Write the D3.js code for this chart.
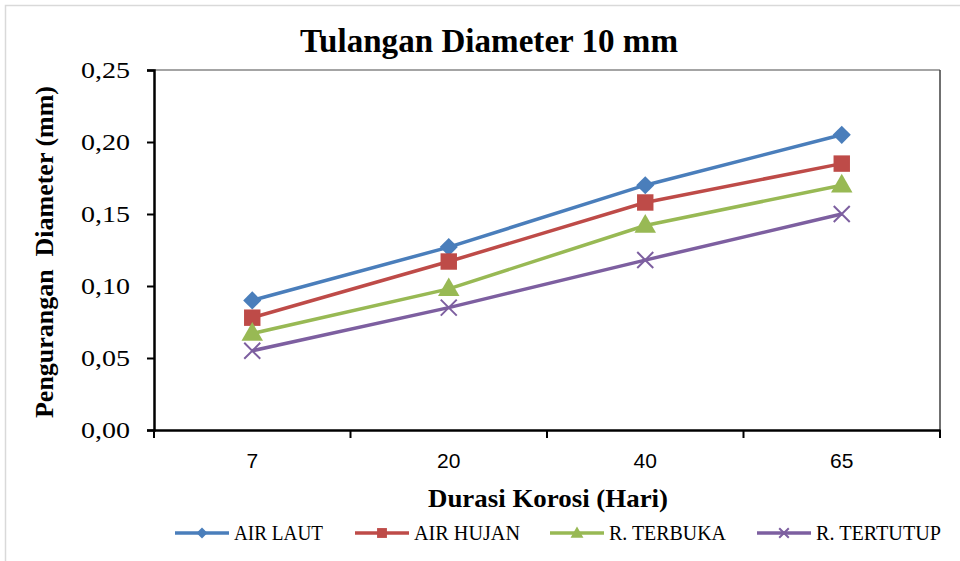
<!DOCTYPE html>
<html>
<head>
<meta charset="utf-8">
<script src="https://cdn.jsdelivr.net/npm/d3@7"></script>
<style>
    body { margin: 0; background: #fff; }
    text { font-family: "Liberation Serif", "Times New Roman", serif; fill: #000; }
</style>
</head>
<body>
<script>
// chart data
var days = ["7", "20", "40", "65"];
var seriesNames = ["AIR LAUT", "AIR HUJAN", "R. TERBUKA", "R. TERTUTUP"];
var airLaut = [0.090, 0.127, 0.170, 0.205];
var airHujan = [0.078, 0.117, 0.158, 0.185];
var rTerbuka = [0.067, 0.098, 0.142, 0.170];
var rTertutup = [0.055, 0.085, 0.118, 0.150];
var yTicks = [0, 0.05, 0.10, 0.15, 0.20, 0.25];

var colors = ["#4a7ebb", "#be4b48", "#98b954", "#7d5fa0"];
var symbols = ["diamond", "square", "triangle", "cross"];

var width = 960,
    height = 561;

var svg = d3.select("body")
    .append("svg")
    .attr("width", width)
    .attr("height", height);

// outer chart border
svg.append("rect")
    .attr("x", 5.5).attr("y", 5.5)
    .attr("width", width).attr("height", height)
    .attr("fill", "none")
    .attr("stroke", "#d9d9d9")
    .attr("stroke-width", 1.5);

var plot = { left: 154, right: 940, top: 70, bottom: 430 };

var x = d3.scaleBand()
    .domain(days)
    .range([plot.left, plot.right]);

var y = d3.scaleLinear()
    .domain([0, 0.25])
    .range([plot.bottom, plot.top]);

// plot frame top/right
svg.append("line")
    .attr("x1", plot.left).attr("x2", plot.right)
    .attr("y1", plot.top).attr("y2", plot.top)
    .attr("stroke", "#868686").attr("stroke-width", 1.5);
svg.append("line")
    .attr("x1", plot.right).attr("x2", plot.right)
    .attr("y1", plot.top).attr("y2", plot.bottom)
    .attr("stroke", "#404040").attr("stroke-width", 1.5);

// y axis
var fmt = function(d) { return d3.format(".2f")(d).replace(".", ","); };
var yAxis = svg.append("g")
    .attr("transform", "translate(" + plot.left + ",0)")
    .call(d3.axisLeft(y).tickValues(yTicks).tickFormat(fmt).tickSize(7).tickPadding(17));
yAxis.selectAll("text")
    .style("font-size", "24px")
    .attr("textLength", 49)
    .attr("lengthAdjust", "spacingAndGlyphs");

// x axis with ticks on band edges
var xAxis = svg.append("g")
    .attr("transform", "translate(0," + plot.bottom + ")")
    .call(d3.axisBottom(x).tickSize(0).tickPadding(23));
xAxis.selectAll("text")
    .style("font-family", "'Liberation Sans', Arial, sans-serif")
    .style("font-size", "21px");
xAxis.selectAll(".edge")
    .data(days.concat(["end"]))
    .enter()
    .append("line")
    .attr("class", "edge")
    .attr("x1", function(d, i) { return i < days.length ? x(d) : plot.right; })
    .attr("x2", function(d, i) { return i < days.length ? x(d) : plot.right; })
    .attr("y1", 0).attr("y2", 8)
    .attr("stroke", "#000").attr("stroke-width", 2);

svg.selectAll(".domain").attr("stroke", "#000").attr("stroke-width", 2.5);
svg.selectAll(".tick line").attr("stroke", "#000").attr("stroke-width", 2);

// series lines + markers
var allSeries = [airLaut, airHujan, rTerbuka, rTertutup];
var line = d3.line()
    .x(function(d, i) { return x(days[i]) + x.bandwidth() / 2; })
    .y(function(d) { return y(d); });

function marker(g, k, cx, cy, scale) {
    var s = scale || 1;
    if (symbols[k] === "diamond") {
        g.append("path")
            .attr("d", d3.symbol().type(d3.symbolDiamond2).size(210 * s * s)())
            .attr("transform", "translate(" + cx + "," + cy + ")")
            .attr("fill", colors[k]);
    } else if (symbols[k] === "square") {
        g.append("path")
            .attr("d", d3.symbol().type(d3.symbolSquare).size(270 * s * s)())
            .attr("transform", "translate(" + cx + "," + cy + ")")
            .attr("fill", colors[k]);
    } else if (symbols[k] === "triangle") {
        g.append("path")
            .attr("d", d3.symbol().type(d3.symbolTriangle).size(200 * s * s)())
            .attr("transform", "translate(" + cx + "," + (cy + 1) + ")")
            .attr("fill", colors[k]);
    } else {
        var r = 8 * s;
        g.append("path")
            .attr("d", "M" + (cx - r) + "," + (cy - r) + "L" + (cx + r) + "," + (cy + r) +
                "M" + (cx - r) + "," + (cy + r) + "L" + (cx + r) + "," + (cy - r))
            .attr("stroke", colors[k])
            .attr("stroke-width", 2)
            .attr("fill", "none");
    }
}

allSeries.forEach(function(vals, k) {
    var g = svg.append("g");
    g.append("path")
        .datum(vals)
        .attr("d", line)
        .attr("fill", "none")
        .attr("stroke", colors[k])
        .attr("stroke-width", 3.5);
    vals.forEach(function(v, i) {
        marker(g, k, x(days[i]) + x.bandwidth() / 2, y(v));
    });
});

// title
svg.append("text")
    .attr("x", 489).attr("y", 52)
    .attr("text-anchor", "middle")
    .style("font-size", "34px")
    .style("font-weight", "bold")
    .attr("textLength", 378)
    .attr("lengthAdjust", "spacingAndGlyphs")
    .text("Tulangan Diameter 10 mm");

// axis titles
svg.append("text")
    .attr("transform", "translate(53,252) rotate(-90)")
    .attr("text-anchor", "middle")
    .style("font-size", "25px")
    .style("font-weight", "bold")
    .attr("textLength", 332)
    .attr("lengthAdjust", "spacingAndGlyphs")
    .attr("xml:space", "preserve")
    .text("Pengurangan  Diameter (mm)");

svg.append("text")
    .attr("x", 548).attr("y", 507)
    .attr("text-anchor", "middle")
    .style("font-size", "25px")
    .style("font-weight", "bold")
    .attr("textLength", 240)
    .attr("lengthAdjust", "spacingAndGlyphs")
    .text("Durasi Korosi (Hari)");

// legend
var legendX = [175, 355, 550, 757];
var legendTextLen = [89, 106, 117, 125];
seriesNames.forEach(function(name, k) {
    var g = svg.append("g");
    var lx = legendX[k], ly = 533;
    g.append("line")
        .attr("x1", lx).attr("x2", lx + 54)
        .attr("y1", ly).attr("y2", ly)
        .attr("stroke", colors[k])
        .attr("stroke-width", 3.5);
    marker(g, k, lx + 27, ly, 0.6);
    g.append("text")
        .attr("x", lx + 59).attr("y", ly + 7)
        .style("font-size", "20px")
        .attr("textLength", legendTextLen[k])
        .attr("lengthAdjust", "spacingAndGlyphs")
        .text(name);
});
</script>
</body>
</html>
